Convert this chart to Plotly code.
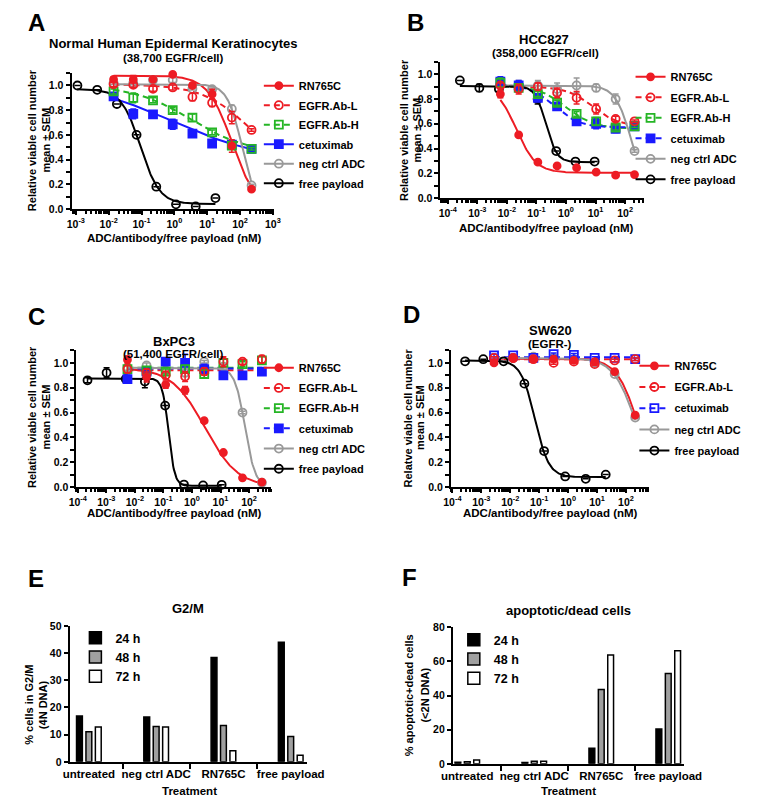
import numpy as np
import plotly.graph_objects as go

W, H = 759, 805
FONT = "Liberation Sans, Arial, Helvetica, sans-serif"

RED = "#ed1c24"
GREEN = "#25b525"
BLUE = "#1a1aff"
GRAY = "#999999"
BLACK = "#000000"

# ---------------- Panel A: Normal Human Epidermal Keratinocytes ----------------
A_conc_adc = [0.0141, 0.0562, 0.224, 0.891, 3.55, 14.1, 56.2, 224]
A_conc_free = [0.00112, 0.00447, 0.0178, 0.0708, 0.282, 1.12, 4.47, 17.8]
A_rn765c = [1.05, 1.05, 1.05, 1.09, 1.00, 0.93, 0.51, 0.16]
A_rn765c_err = [0.02, 0.03, 0.01, 0.01, 0.02, 0.04, 0.05, 0.01]
A_abl = [1.01, 1.005, 0.973, 0.984, 0.907, 0.86, 0.74, 0.64]
A_abl_err = [0.02, 0.02, 0.02, 0.02, 0.03, 0.03, 0.05, 0.01]
A_abh = [0.952, 0.90, 0.88, 0.80, 0.74, 0.62, 0.513, 0.487]
A_abh_err = [0.02, 0.04, 0.02, 0.02, 0.03, 0.02, 0.03, 0.01]
A_cetux = [0.912, 0.77, 0.766, 0.686, 0.61, 0.53, 0.52, 0.487]
A_cetux_err = [0.02, 0.04, 0.02, 0.04, 0.01, 0.02, 0.02, 0.01]
A_neg = [1.02, 1.02, 1.045, 1.045, 0.973, 0.97, 0.81, 0.19]
A_neg_err = [0.01, 0.01, 0.02, 0.02, 0.01, 0.01, 0.03, 0.01]
A_free = [1.0, 0.965, 0.85, 0.60, 0.18, 0.037, 0.02, 0.088]
A_free_err = [0, 0, 0, 0, 0, 0, 0, 0]
# fitted curves: top, bottom, logIC50, hill
A_fit_rn765c = [1.08, 0.0, 1.75, 1.18]
A_fit_abl = [1.01, 0.30, 2.30, 0.60]
A_fit_abh = [1.00, 0.45, 0.50, 0.50]
A_fit_cetux = [1.05, 0.38, -0.10, 0.30]
A_fit_neg = [1.01, 0.0, 2.06, 1.94]
A_fit_free = [0.97, 0.04, -1.03, 1.50]

# ---------------- Panel B: HCC827 ----------------
B_conc_adc = [0.00603, 0.0251, 0.112, 0.501, 2.29, 10.5, 47.9, 209]
B_conc_free = [0.000257, 0.00117, 0.00537, 0.0251, 0.11, 0.468, 2.09, 9.33]
B_rn765c = [0.84, 0.51, 0.29, 0.26, 0.245, 0.21, 0.185, 0.19]
B_rn765c_err = [0.03, 0, 0, 0, 0, 0, 0, 0]
B_abl = [0.91, 0.88, 0.90, 0.85, 0.81, 0.72, 0.64, 0.62]
B_abl_err = [0.02, 0.04, 0.03, 0.04, 0.05, 0.04, 0.02, 0.01]
B_abh = [0.93, 0.89, 0.84, 0.77, 0.68, 0.62, 0.57, 0.58]
B_abh_err = [0.04, 0.03, 0.02, 0.02, 0.02, 0.03, 0.02, 0.01]
B_cetux = [0.94, 0.91, 0.81, 0.74, 0.62, 0.60, 0.56, 0.58]
B_cetux_err = [0.04, 0.04, 0.03, 0.02, 0.02, 0.04, 0.03, 0.01]
B_neg = [0.92, 0.91, 0.91, 0.88, 0.91, 0.89, 0.80, 0.38]
B_neg_err = [0.03, 0.04, 0.04, 0.05, 0.06, 0.03, 0.04, 0.01]
B_free = [0.95, 0.89, 0.88, 0.905, 0.80, 0.38, 0.295, 0.295]
B_free_err = [0, 0.03, 0.02, 0.03, 0.04, 0, 0, 0]
B_fit_rn765c = [0.91, 0.205, -1.68, 1.30]
B_fit_abl = [0.90, 0.58, 0.90, 1.00]
B_fit_abh = [0.91, 0.56, 0.00, 0.90]
B_fit_cetux = [0.92, 0.57, -0.40, 1.00]
B_fit_neg = [0.91, 0.0, 2.23, 1.57]
B_fit_free = [0.905, 0.29, -0.68, 2.37]

# ---------------- Panel C: BxPC3 ----------------
C_conc_adc = [0.0055, 0.0257, 0.12, 0.575, 2.69, 12.6, 58.9, 282]
C_conc_free = [0.000219, 0.00102, 0.00479, 0.0224, 0.115, 0.525, 2.45, 11.0]
C_rn765c = [1.026, 0.886, 0.825, 0.78, 0.534, 0.278, 0.074, 0.04]
C_rn765c_err = [0.03, 0.04, 0.03, 0.03, 0.02, 0.01, 0.01, 0.01]
C_abl = [0.95, 0.92, 0.90, 0.89, 0.93, 1.01, 1.01, 1.03]
C_abl_err = [0.03, 0.03, 0.03, 0.04, 0.03, 0.04, 0.02, 0.03]
C_abh = [0.95, 0.94, 0.93, 0.95, 0.91, 1.00, 0.99, 1.02]
C_abh_err = [0.03, 0.03, 0.02, 0.03, 0.03, 0.03, 0.02, 0.03]
C_cetux = [0.87, 0.93, 1.01, 1.00, 0.95, 0.90, 0.90, 0.93]
C_cetux_err = [0.03, 0.03, 0.03, 0.07, 0.04, 0.03, 0.02, 0.02]
C_neg = [0.96, 0.98, 0.94, 0.92, 1.01, 0.97, 0.60, 0.035]
C_neg_err = [0.02, 0.02, 0.02, 0.03, 0.01, 0.02, 0.01, 0.01]
C_free = [0.86, 0.92, 0.87, 0.85, 0.656, 0.02, 0.013, 0.018]
C_free_err = [0.02, 0.04, 0.02, 0.05, 0, 0, 0, 0]
C_fit_rn765c = [0.96, 0.0, 0.45, 0.75]
C_fit_abl = [0.94, 0.94, 0.0, 1.0]
C_fit_abh = [0.96, 0.96, 0.0, 1.0]
C_fit_cetux = [0.955, 0.955, 0.0, 1.0]
C_fit_neg = [0.96, 0.0, 1.86, 2.42]
C_fit_free = [0.875, 0.01, -0.82, 4.0]

# ---------------- Panel D: SW620 ----------------
D_conc_adc = [0.00275, 0.0126, 0.0631, 0.316, 1.585, 8.32, 40.7, 209]
D_conc_free = [0.000275, 0.00117, 0.00589, 0.0309, 0.148, 0.794, 4.07, 20.0]
D_rn765c = [1.00, 1.035, 1.03, 1.03, 1.02, 1.01, 0.93, 0.58]
D_rn765c_err = [0.01, 0.01, 0.01, 0.01, 0.01, 0.01, 0.01, 0.01]
D_abl = [1.04, 1.04, 1.03, 1.00, 1.01, 0.99, 1.02, 1.03]
D_abl_err = [0.01, 0.01, 0.01, 0.01, 0.01, 0.01, 0.01, 0.01]
D_cetux = [1.06, 1.06, 1.04, 1.07, 1.065, 1.04, 1.04, 1.03]
D_cetux_err = [0.01, 0.01, 0.01, 0.01, 0.01, 0.01, 0.01, 0.01]
D_neg = [1.04, 1.04, 1.05, 1.04, 1.03, 1.00, 0.91, 0.56]
D_neg_err = [0.01, 0.01, 0.01, 0.01, 0.01, 0.01, 0.01, 0.01]
D_free = [1.013, 1.03, 1.013, 0.833, 0.29, 0.085, 0.066, 0.10]
D_free_err = [0, 0, 0, 0, 0, 0, 0, 0]
D_fit_rn765c = [1.035, 0.0, 2.41, 1.18]
D_fit_abl = [1.03, 1.03, 0.0, 1.0]
D_fit_cetux = [1.045, 1.045, 0.0, 1.0]
D_fit_neg = [1.04, 0.0, 2.35, 1.10]
D_fit_free = [1.02, 0.08, -1.15, 1.80]

# ---------------- Panels E / F: cell cycle ----------------
treatments = ["untreated", "neg ctrl ADC", "RN765C", "free payload"]
timepoints = ["24 h", "48 h", "72 h"]
E_g2m_24h = [16.9, 16.5, 38.4, 44.0]
E_g2m_48h = [11.1, 13.0, 13.4, 9.3]
E_g2m_72h = [12.8, 12.8, 4.1, 2.4]
F_dead_24h = [1.0, 0.8, 9.2, 20.4]
F_dead_48h = [1.2, 1.5, 43.5, 52.9]
F_dead_72h = [2.3, 1.5, 63.7, 66.3]

x_ticks_A = [1e-3, 1e-2, 1e-1, 1e0, 1e1, 1e2, 1e3]
x_ticks_BCD = [1e-4, 1e-3, 1e-2, 1e-1, 1e0, 1e1, 1e2]
y_ticks_curve = [0.0, 0.2, 0.4, 0.6, 0.8, 1.0]
y_minor_curve = [0.1, 0.3, 0.5, 0.7, 0.9, 1.1]

# ---------------------------------------------------------------------------
STYLE = {
    "RN765C": dict(color=RED, symbol="circle", dash="solid", size=7),
    "EGFR.Ab-L": dict(color=RED, symbol="circle-open", dash="dash", size=8),
    "EGFR.Ab-H": dict(color=GREEN, symbol="square-open", dash="dash", size=8),
    "cetuximab": dict(color=BLUE, symbol="square", dash="dash", size=8),
    "neg ctrl ADC": dict(color=GRAY, symbol="circle-open", dash="solid", size=8),
    "free payload": dict(color=BLACK, symbol="circle-open", dash="solid", size=8),
}


def px_x(p):
    return p / W


def px_y(p):
    return 1 - p / H


def curve(conc, fit):
    top, bottom, logc, hill = fit
    lx = np.linspace(np.log10(min(conc)), np.log10(max(conc)), 200)
    return 10 ** lx, bottom + (top - bottom) / (1 + 10 ** ((lx - logc) * hill))


fig = go.Figure()


def add_panel(idx, legend_name, series, overrides=None):
    xa = "x" if idx == 1 else f"x{idx}"
    ya = "y" if idx == 1 else f"y{idx}"
    overrides = overrides or {}
    for name, conc, vals, err, fit in series:
        st = dict(STYLE[name]); st.update(overrides.get(name, {}))
        cx, cy = curve(conc, fit)
        dash = "6px,4px" if st["dash"] == "dash" else "solid"
        fig.add_trace(go.Scatter(x=cx, y=cy, mode="lines", xaxis=xa, yaxis=ya,
                                 line=dict(color=st["color"], width=2, dash=dash),
                                 showlegend=False, hoverinfo="skip", cliponaxis=False))
    for name, conc, vals, err, fit in reversed(series):
        st = dict(STYLE[name]); st.update(overrides.get(name, {}))
        fig.add_trace(go.Scatter(
            x=conc, y=vals, mode="markers", xaxis=xa, yaxis=ya, showlegend=False,
            cliponaxis=False,
            marker=dict(symbol=st["symbol"], size=st["size"], color=st["color"],
                        line=dict(color=st["color"], width=1.8)),
            error_y=dict(type="data", array=err, color=st["color"], thickness=1.5, width=3)))
    for i, (name, conc, vals, err, fit) in enumerate(series):
        st = dict(STYLE[name]); st.update(overrides.get(name, {}))
        dash = "6px,4px" if st["dash"] == "dash" else "solid"
        fig.add_trace(go.Scatter(
            x=[None], y=[None], mode="lines+markers", name=name, legend=legend_name,
            legendgroup=f"{legend_name}_{i}", xaxis=xa, yaxis=ya,
            line=dict(color=st["color"], width=2, dash=dash),
            marker=dict(symbol=st["symbol"], size=st["size"], color=st["color"],
                        line=dict(color=st["color"], width=1.8))))


add_panel(1, "legend", [
    ("RN765C", A_conc_adc, A_rn765c, A_rn765c_err, A_fit_rn765c),
    ("EGFR.Ab-L", A_conc_adc, A_abl, A_abl_err, A_fit_abl),
    ("EGFR.Ab-H", A_conc_adc, A_abh, A_abh_err, A_fit_abh),
    ("cetuximab", A_conc_adc, A_cetux, A_cetux_err, A_fit_cetux),
    ("neg ctrl ADC", A_conc_adc, A_neg, A_neg_err, A_fit_neg),
    ("free payload", A_conc_free, A_free, A_free_err, A_fit_free),
], overrides={"cetuximab": dict(dash="solid")})

add_panel(2, "legend2", [
    ("RN765C", B_conc_adc, B_rn765c, B_rn765c_err, B_fit_rn765c),
    ("EGFR.Ab-L", B_conc_adc, B_abl, B_abl_err, B_fit_abl),
    ("EGFR.Ab-H", B_conc_adc, B_abh, B_abh_err, B_fit_abh),
    ("cetuximab", B_conc_adc, B_cetux, B_cetux_err, B_fit_cetux),
    ("neg ctrl ADC", B_conc_adc, B_neg, B_neg_err, B_fit_neg),
    ("free payload", B_conc_free, B_free, B_free_err, B_fit_free),
])

add_panel(3, "legend3", [
    ("RN765C", C_conc_adc, C_rn765c, C_rn765c_err, C_fit_rn765c),
    ("EGFR.Ab-L", C_conc_adc, C_abl, C_abl_err, C_fit_abl),
    ("EGFR.Ab-H", C_conc_adc, C_abh, C_abh_err, C_fit_abh),
    ("cetuximab", C_conc_adc, C_cetux, C_cetux_err, C_fit_cetux),
    ("neg ctrl ADC", C_conc_adc, C_neg, C_neg_err, C_fit_neg),
    ("free payload", C_conc_free, C_free, C_free_err, C_fit_free),
])

add_panel(4, "legend4", [
    ("RN765C", D_conc_adc, D_rn765c, D_rn765c_err, D_fit_rn765c),
    ("EGFR.Ab-L", D_conc_adc, D_abl, D_abl_err, D_fit_abl),
    ("cetuximab", D_conc_adc, D_cetux, D_cetux_err, D_fit_cetux),
    ("neg ctrl ADC", D_conc_adc, D_neg, D_neg_err, D_fit_neg),
    ("free payload", D_conc_free, D_free, D_free_err, D_fit_free),
], overrides={"cetuximab": dict(symbol="square-open")})

BAR_COLORS = ["#000000", "#a0a0a0", "#ffffff"]
for idx, leg_name, vals_list in [(5, "legend5", [E_g2m_24h, E_g2m_48h, E_g2m_72h]),
                                 (6, "legend6", [F_dead_24h, F_dead_48h, F_dead_72h])]:
    for tp, vals, col in zip(timepoints, vals_list, BAR_COLORS):
        fig.add_trace(go.Bar(x=treatments, y=vals, name=tp, legend=leg_name,
                             xaxis=f"x{idx}", yaxis=f"y{idx}",
                             marker=dict(color=col, line=dict(color="black", width=1.5))))

# ---------------- axes ----------------
tickfont = dict(family=FONT, size=10.5, color="black", weight="bold")
base = dict(showline=True, linecolor="black", linewidth=2, ticks="outside", ticklen=4,
            tickwidth=2, tickcolor="black", showgrid=False, zeroline=False,
            tickfont=tickfont)


def sup(v):
    e = int(round(np.log10(v)))
    return "10<sup>" + str(e) + "</sup>"


def minor_vals(lo, hi):
    out = []
    for e in range(lo, hi):
        for k in range(2, 10):
            out.append(k * 10.0 ** e)
    return out


def log_axis(dom, rng, ticks, anchor, mlo, mhi):
    return dict(base, type="log", domain=dom, range=rng, anchor=anchor,
                tickmode="array", tickvals=ticks, ticktext=[sup(t) for t in ticks],
                minor=dict(ticks="outside", ticklen=3, tickwidth=1.5, tickcolor="black",
                           tickmode="array", tickvals=minor_vals(mlo, mhi), showgrid=False))


def lin_y(dom, rng, ticks, anchor, fmt, minor_ticks=None):
    d = dict(base, domain=dom, range=rng, anchor=anchor, tickmode="array",
             tickvals=ticks, ticktext=[fmt.format(t) for t in ticks])
    if minor_ticks:
        d["minor"] = dict(ticks="outside", ticklen=4, tickwidth=1.5, tickcolor="black",
                          tickmode="array", tickvals=minor_ticks, showgrid=False)
    return d


cat_font = dict(family=FONT, size=11.5, color="black", weight="bold")
fig.update_layout(
    xaxis=log_axis([px_x(62), px_x(273)], [-3.13, 3.04], x_ticks_A, "y", -4, 3),
    yaxis=lin_y([px_y(206), px_y(206 - 1.1 * 125.3)], [0, 1.1], y_ticks_curve, "x", "{:.1f}", y_minor_curve),
    xaxis2=log_axis([px_x(446), px_x(658)], [-4.25, 2.64], x_ticks_BCD, "y2", -5, 3),
    yaxis2=lin_y([px_y(195), px_y(195 - 1.1 * 125.7)], [0, 1.1], y_ticks_curve, "x2", "{:.1f}", y_minor_curve),
    xaxis3=log_axis([px_x(67), px_x(270)], [-4.05, 2.78], x_ticks_BCD, "y3", -5, 3),
    yaxis3=lin_y([px_y(488.3), px_y(488.3 - 1.1 * 126)], [0, 1.1], y_ticks_curve, "x3", "{:.1f}", y_minor_curve),
    xaxis4=log_axis([px_x(457), px_x(663)], [-4.05, 2.79], x_ticks_BCD, "y4", -5, 3),
    yaxis4=lin_y([px_y(488.3), px_y(488.3 - 1.1 * 126)], [0, 1.1], y_ticks_curve, "x4", "{:.1f}", y_minor_curve),
    xaxis5=dict(base, type="category", domain=[px_x(60), px_x(307)], range=[-0.286, 3.24],
                anchor="y5", tickson="boundaries", tickangle=0, tickfont=cat_font, ticklen=5),
    yaxis5=lin_y([px_y(767.3), px_y(629.3)], [0, 50], [0, 10, 20, 30, 40, 50], "x5", "{:d}"),
    xaxis6=dict(base, type="category", domain=[px_x(459), px_x(700)], range=[-0.215, 3.24],
                anchor="y6", tickson="boundaries", tickangle=0, tickfont=cat_font, ticklen=5),
    yaxis6=lin_y([px_y(769.3), px_y(630.7)], [0, 80], [0, 20, 40, 60, 80], "x6", "{:d}"),
)


# ---------------- legends (positioned by first-row centre) ----------------
def leg(xp, first_row, size, gap):
    top = first_row - 14.5
    return dict(x=px_x(xp), y=px_y(top), xanchor="left", yanchor="top",
                bgcolor="rgba(0,0,0,0)", borderwidth=0, itemwidth=30,
                traceorder="grouped", tracegroupgap=gap,
                font=dict(family=FONT, size=size, color="black", weight="bold"))


fig.update_layout(
    legend=leg(257, 80.7, 11, 0.5),
    legend2=leg(644, 71.7, 11, 1.5),
    legend3=leg(257, 367, 11, 1.2),
    legend4=leg(648, 365, 11, 2.2),
    legend5=leg(66, 641, 12.5, 0),
    legend6=leg(460, 643, 12.5, 0),
)

# ---------------- text ----------------
ann = []


def text(s, xp, yp, size, angle=0):
    ann.append(dict(text=s, x=px_x(xp), y=px_y(yp), xref="paper", yref="paper",
                    showarrow=False, xanchor="center", yanchor="middle", textangle=angle,
                    font=dict(family=FONT, size=size, color="black", weight="bold")))


for letter, xp, yp in [("A", 25, 16.5), ("B", 420, 16.5), ("C", 26, 315),
                       ("D", 416, 313.5), ("E", 25, 581), ("F", 414, 580)]:
    text(letter, xp, yp, 24)

text("Normal Human Epidermal Keratinocytes", 168, 38.5, 13)
text("(38,700 EGFR/cell)", 168, 52.5, 11.5)
text("HCC827", 553.5, 33.5, 13)
text("(358,000 EGFR/cell)", 555.5, 48, 11.5)
text("BxPC3", 168.5, 340.5, 13)
text("(51,400 EGFR/cell)", 168.5, 353.5, 11.5)
text("SW620", 560.5, 329.5, 13)
text("(EGFR-)", 560.5, 343.5, 11.5)
text("G2/M", 183.5, 612, 13)
text("apoptotic/dead cells", 579, 614, 13)

xt = "ADC/antibody/free payload (nM)"
text(xt, 169, 236, 11.5)
text(xt, 557, 225, 11.5)
text(xt, 169, 515, 11.5)
text(xt, 561, 515, 11.5)
text("Treatment", 185, 797, 11.5)
text("Treatment", 579.5, 797, 11.5)

for l1, l2, x1, x2, yc in [
    ("Relative viable cell number", "mean ± SEM", 21, 35, 136),
    ("Relative viable cell number", "mean ± SEM", 408, 422, 126),
    ("Relative viable cell number", "mean ± SEM", 21, 35, 417),
    ("Relatve viable cell number", "mean ± SEM", 412, 425, 418),
    ("% cells in G2/M", "(4N DNA)", 18, 33, 709),
    ("% apoptotic+dead cells", "(&lt;2N DNA)", 413, 430, 700),
]:
    text(l1, x1, yc, 11, -90)
    text(l2, x2, yc, 11, -90)

fig.update_layout(
    annotations=ann,
    width=W, height=H, margin=dict(l=0, r=0, t=0, b=0),
    paper_bgcolor="white", plot_bgcolor="white",
    barmode="group", bargap=0.58, bargroupgap=0.38,
    font=dict(family=FONT, color="black"),
)

fig.write_html("out.html", config={"displayModeBar": False},
               post_script="document.body.style.margin='0px';")
